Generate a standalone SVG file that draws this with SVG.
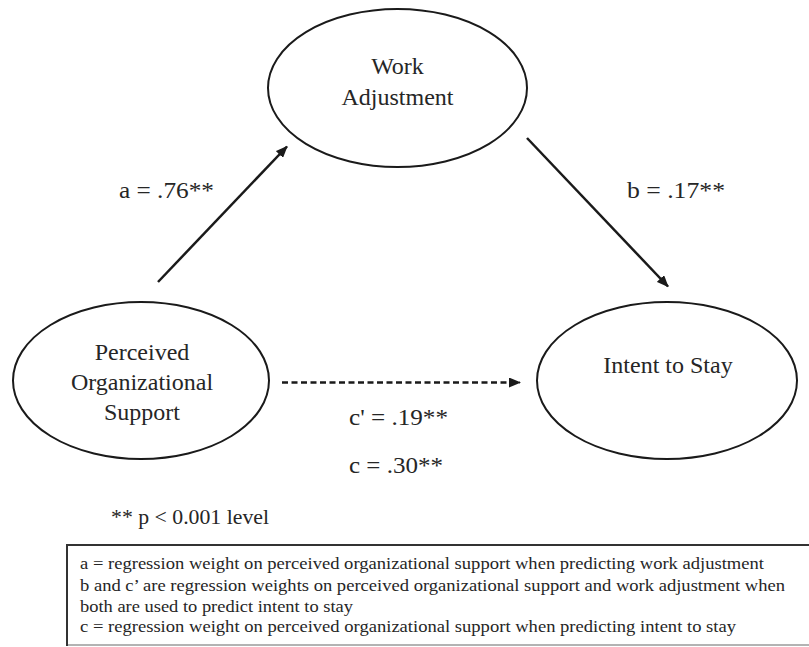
<svg xmlns="http://www.w3.org/2000/svg" width="809" height="647" viewBox="0 0 809 647">
<style>
  .node { fill: #ffffff; stroke: #1a1a1a; stroke-width: 2; }
  .lbl { font-family: "Liberation Serif", "Times New Roman", serif; font-size: 24px; fill: #262626; text-anchor: middle; }
  .wt { font-family: "Liberation Serif", "Times New Roman", serif; font-size: 24px; fill: #262626; }
  .note { font-family: "Liberation Serif", "Times New Roman", serif; font-size: 20px; fill: #262626; }
  .leg { font-family: "Liberation Serif", "Times New Roman", serif; font-size: 17px; fill: #262626; }
  .edge { stroke: #1a1a1a; stroke-width: 2.5; fill: none; }
  .dash { stroke: #1a1a1a; stroke-width: 2.5; fill: none; stroke-dasharray: 6 3.5; }
</style>
<defs>
  <marker id="arrow" viewBox="0 0 12 10" refX="11" refY="5" markerWidth="12" markerHeight="10" markerUnits="userSpaceOnUse" orient="auto">
    <path d="M0,0 L12,5 L0,10 Z" fill="#1a1a1a"/>
  </marker>
</defs>
<rect width="809" height="647" fill="#ffffff"/>

<g id="connectors">
  <line id="edge-a" class="edge" x1="158" y1="282" x2="287" y2="146.5" marker-end="url(#arrow)"/>
  <line id="edge-b" class="edge" x1="527" y1="138" x2="668" y2="286.5" marker-end="url(#arrow)"/>
  <line id="edge-c" class="dash" x1="282" y1="382.5" x2="520" y2="382.5" marker-end="url(#arrow)"/>
</g>

<g id="node-work-adjustment">
  <ellipse class="node" cx="397.5" cy="88" rx="129.5" ry="79"/>
  <text class="lbl" x="397.5" y="74">Work</text>
  <text class="lbl" x="397.5" y="105">Adjustment</text>
</g>

<g id="node-pos">
  <ellipse class="node" cx="141" cy="380.5" rx="128" ry="78.5"/>
  <text class="lbl" x="142" y="360">Perceived</text>
  <text class="lbl" x="142" y="390">Organizational</text>
  <text class="lbl" x="142" y="420">Support</text>
</g>

<g id="node-intent">
  <ellipse class="node" cx="667" cy="380.5" rx="130" ry="78.5"/>
  <text class="lbl" x="668" y="373">Intent to Stay</text>
</g>

<g id="edge-labels">
  <text class="wt" x="119" y="198" textLength="95" lengthAdjust="spacingAndGlyphs">a = .76**</text>
  <text class="wt" x="627" y="198" textLength="98" lengthAdjust="spacingAndGlyphs">b = .17**</text>
  <text class="wt" x="349" y="425" textLength="99" lengthAdjust="spacingAndGlyphs">c' = .19**</text>
  <text class="wt" x="349" y="473" textLength="94" lengthAdjust="spacingAndGlyphs">c = .30**</text>
</g>

<text class="note" x="111" y="524" textLength="158" lengthAdjust="spacingAndGlyphs">** p &lt; 0.001  level</text>

<g id="legend">
  <line x1="66" y1="645" x2="809" y2="645" stroke="#9a9a9a" stroke-width="1.5"/>
  <path d="M67,646 L67,545 L809,545" fill="none" stroke="#333333" stroke-width="2"/>
  <text class="leg" x="80" y="569" textLength="684" lengthAdjust="spacingAndGlyphs">a = regression weight on perceived organizational support when predicting work adjustment</text>
  <text class="leg" x="80" y="591" textLength="705" lengthAdjust="spacingAndGlyphs">b and c’ are regression weights on perceived organizational support and work adjustment when</text>
  <text class="leg" x="80" y="612" textLength="273" lengthAdjust="spacingAndGlyphs">both are used to predict intent to stay</text>
  <text class="leg" x="80" y="632" textLength="656" lengthAdjust="spacingAndGlyphs">c = regression weight on perceived organizational support when predicting intent to stay</text>
</g>
</svg>
